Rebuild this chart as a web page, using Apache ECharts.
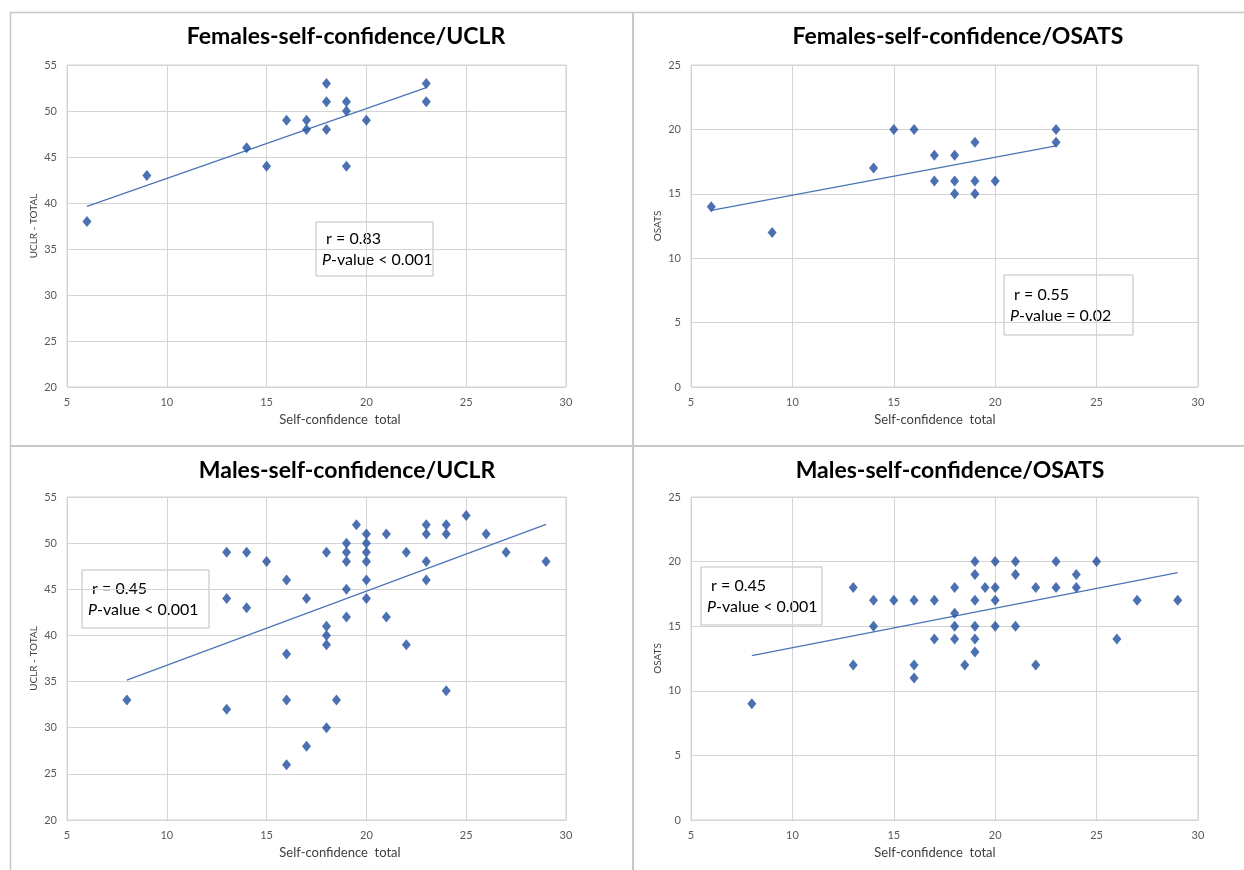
<!DOCTYPE html>
<html lang="en">
<head>
    <meta charset="UTF-8">
    <title>Self-confidence correlations</title>
    <style>
        body { margin: 0; background: #fff; }
        div#main { width: 1244px; height: 870px; }
    </style>
</head>
<body>
    <div id="main"></div>
    <script src="https://cdn.jsdelivr.net/npm/echarts@6/dist/echarts.min.js"></script>
    <script>
        // values
        const femUclrX = [6, 9, 14, 15, 16, 17, 17, 18, 18, 18, 19, 19, 19, 20, 23, 23];
        const femUclrY = [38, 43, 46, 44, 49, 49, 48, 53, 51, 48, 51, 50, 44, 49, 53, 51];

        const femOsatsX = [6, 9, 14, 15, 16, 17, 17, 18, 18, 18, 19, 19, 19, 20, 23, 23];
        const femOsatsY = [14, 12, 17, 20, 20, 18, 16, 18, 16, 15, 19, 16, 15, 16, 20, 19];

        const maleUclrX = [8, 13, 13, 13, 14, 14, 15, 16, 16, 16, 16, 17, 17, 18, 18, 18, 18, 18,
            18.5, 19, 19, 19, 19, 19, 19.5, 20, 20, 20, 20, 20, 20, 21, 21, 22, 22, 23, 23, 23, 23,
            24, 24, 24, 25, 26, 27, 29];
        const maleUclrY = [33, 49, 44, 32, 49, 43, 48, 46, 38, 33, 26, 44, 28, 49, 41, 40, 39, 30,
            33, 50, 49, 48, 45, 42, 52, 51, 50, 49, 48, 46, 44, 51, 42, 49, 39, 52, 51, 48, 46,
            52, 51, 34, 53, 51, 49, 48];

        const maleOsatsX = [8, 13, 13, 14, 14, 15, 16, 16, 16, 17, 17, 18, 18, 18, 18, 18.5,
            19, 19, 19, 19, 19, 19, 19.5, 20, 20, 20, 20, 21, 21, 21, 22, 22, 23, 23, 24, 24,
            25, 26, 27, 29];
        const maleOsatsY = [9, 18, 12, 17, 15, 17, 17, 12, 11, 17, 14, 18, 16, 15, 14, 12,
            20, 19, 17, 15, 14, 13, 18, 20, 18, 17, 15, 20, 19, 15, 18, 12, 20, 18, 19, 18,
            20, 14, 17, 17];

        const titles = ['Females-self-confidence/UCLR', 'Females-self-confidence/OSATS',
            'Males-self-confidence/UCLR', 'Males-self-confidence/OSATS'];
        const yNames = ['UCLR - TOTAL', 'OSATS', 'UCLR - TOTAL', 'OSATS'];
        const xName = 'Self-confidence  total';
        const stats = [['r = 0.83', '< 0.001'], ['r = 0.55', '= 0.02'],
            ['r = 0.45', '< 0.001'], ['r = 0.45', '< 0.001']];

        const panels = [
            { x: femUclrX, y: femUclrY, ymin: 20, ymax: 55 },
            { x: femOsatsX, y: femOsatsY, ymin: 0, ymax: 25 },
            { x: maleUclrX, y: maleUclrY, ymin: 20, ymax: 55 },
            { x: maleOsatsX, y: maleOsatsY, ymin: 0, ymax: 25 }
        ];

        // plot area boxes and stat box places (pixels)
        const grids = [
            { left: 67, top: 65, width: 499, height: 322 },
            { left: 691, top: 65, width: 507, height: 322 },
            { left: 67, top: 497, width: 499, height: 323 },
            { left: 691, top: 497, width: 507, height: 323 }
        ];
        const boxes = [
            { x: 316, y: 222, w: 117, h: 54 },
            { x: 1004, y: 275, w: 129, h: 60 },
            { x: 82, y: 570, w: 127, h: 58 },
            { x: 701, y: 567, w: 121, h: 58 }
        ];
        const titlePos = [[341, 20], [953, 20], [342, 454], [945, 454]];
        const xNamePos = [[340, 420], [935, 420], [340, 853], [935, 853]];

        const FONT = 'Lato';
        const BLUE = '#1f4e9e';

        function fit(xs, ys) {
            const n = xs.length;
            const mx = xs.reduce((a, b) => a + b, 0) / n;
            const my = ys.reduce((a, b) => a + b, 0) / n;
            let sxy = 0, sxx = 0;
            xs.forEach((x, i) => { sxy += (x - mx) * (ys[i] - my); sxx += (x - mx) * (x - mx); });
            const b = sxy / sxx;
            const lo = Math.min(...xs), hi = Math.max(...xs);
            return [[lo, my + b * (lo - mx)], [hi, my + b * (hi - mx)]];
        }

        const myChart = echarts.init(document.getElementById('main'));

        const option = {
            backgroundColor: '#fff',
            animation: false,
            title: titles.map((t, i) => ({
                text: t,
                left: titlePos[i][0],
                top: titlePos[i][1],
                textAlign: 'center',
                textStyle: { fontFamily: FONT, fontSize: 23, fontWeight: 'bold', color: '#000' }
            })),
            grid: grids.map(g => Object.assign({ show: true, borderColor: '#d4d4d4', borderWidth: 1 }, g)),
            xAxis: panels.map((p, i) => ({
                type: 'value', gridIndex: i, min: 5, max: 30, interval: 5,
                axisLine: { show: false },
                axisTick: { show: false },
                splitLine: { lineStyle: { color: '#d4d4d4', width: 1 } },
                axisLabel: { fontFamily: FONT, fontSize: 11, color: '#595959', margin: 10 }
            })),
            yAxis: panels.map((p, i) => ({
                type: 'value', gridIndex: i, min: p.ymin, max: p.ymax, interval: 5,
                name: yNames[i], nameLocation: 'middle', nameGap: 28,
                nameTextStyle: { fontFamily: FONT, fontSize: 10, color: '#404040' },
                axisLine: { show: false },
                axisTick: { show: false },
                splitLine: { lineStyle: { color: '#d4d4d4', width: 1 } },
                axisLabel: { fontFamily: FONT, fontSize: 11, color: '#595959', margin: 10 }
            })),
            series: [].concat(...panels.map((p, i) => [
                {
                    type: 'scatter', xAxisIndex: i, yAxisIndex: i,
                    symbol: 'diamond', symbolSize: [9, 11],
                    itemStyle: { color: BLUE },
                    data: p.x.map((x, k) => [x, p.y[k]]),
                    z: 3
                },
                {
                    type: 'line', xAxisIndex: i, yAxisIndex: i,
                    showSymbol: false, symbol: 'none',
                    lineStyle: { color: '#4a74b8', width: 1.2 },
                    data: fit(p.x, p.y),
                    z: 2
                }
            ])),
            graphic: [
                // panel frame
                { type: 'line', shape: { x1: 10, y1: 12.5, x2: 1244, y2: 12.5 }, style: { stroke: '#c8c8c8', lineWidth: 1.5 } },
                { type: 'line', shape: { x1: 10.5, y1: 12, x2: 10.5, y2: 870 }, style: { stroke: '#c8c8c8', lineWidth: 1.5 } },
                { type: 'line', shape: { x1: 633, y1: 12, x2: 633, y2: 870 }, style: { stroke: '#c8c8c8', lineWidth: 2 } },
                { type: 'line', shape: { x1: 10, y1: 446, x2: 1244, y2: 446 }, style: { stroke: '#c8c8c8', lineWidth: 2 } }
            ].concat(xNamePos.map(p => ({
                type: 'text', x: p[0], y: p[1],
                style: { text: xName, fontFamily: FONT, fontSize: 13, fill: '#404040', align: 'center', verticalAlign: 'middle' }
            }))).concat(boxes.map((b, i) => ({
                type: 'group', x: b.x, y: b.y, z: 10,
                children: [
                    { type: 'rect', shape: { x: 0, y: 0, width: b.w, height: b.h },
                      style: { fill: '#fff', stroke: '#bfbfbf', lineWidth: 1 } },
                    { type: 'text', x: 6, y: b.h / 2,
                      style: {
                          text: ' ' + stats[i][0] + '\n{i|P}-value ' + stats[i][1],
                          fontFamily: FONT, fontSize: 16, fill: '#000', lineHeight: 21,
                          verticalAlign: 'middle',
                          rich: { i: { fontStyle: 'italic', fontFamily: FONT, fontSize: 16, fill: '#000' } }
                      } }
                ]
            })))
        };

        myChart.setOption(option);
    </script>
</body>
</html>
